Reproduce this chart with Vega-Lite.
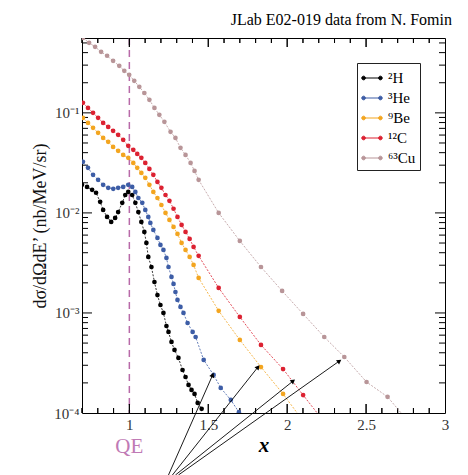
{
  "$schema": "https://vega.github.io/schema/vega-lite/v6.json",
  "width": 363,
  "height": 375,
  "autosize": "none",
  "padding": {"left": 82, "top": 38, "right": 23, "bottom": 62},
  "background": "white",
  "config": {"view": {"stroke": "black", "strokeWidth": 1}, "font": "Liberation Serif"},
  "title": {"text": "JLab E02-019 data from N. Fomin", "anchor": "end", "frame": "group", "font": "Liberation Serif", "fontSize": 16, "fontWeight": "normal", "color": "black", "baseline": "alphabetic", "offset": -5, "dx": 7},
  "datasets": {
    "series": [
      {"n": "²H", "x": 0.700, "y": 0.0191}, {"n": "²H", "x": 0.732, "y": 0.0182}, {"n": "²H", "x": 0.764, "y": 0.0170}, {"n": "²H", "x": 0.789, "y": 0.0159},
      {"n": "²H", "x": 0.815, "y": 0.0129}, {"n": "²H", "x": 0.834, "y": 0.0107}, {"n": "²H", "x": 0.859, "y": 0.00912}, {"n": "²H", "x": 0.885, "y": 0.00813},
      {"n": "²H", "x": 0.910, "y": 0.00891}, {"n": "²H", "x": 0.929, "y": 0.0102}, {"n": "²H", "x": 0.955, "y": 0.0126}, {"n": "²H", "x": 0.974, "y": 0.0151},
      {"n": "²H", "x": 0.993, "y": 0.0162}, {"n": "²H", "x": 1.018, "y": 0.0151}, {"n": "²H", "x": 1.038, "y": 0.0126}, {"n": "²H", "x": 1.057, "y": 0.0102},
      {"n": "²H", "x": 1.076, "y": 0.00813}, {"n": "²H", "x": 1.095, "y": 0.00646}, {"n": "²H", "x": 1.108, "y": 0.00501}, {"n": "²H", "x": 1.120, "y": 0.00363},
      {"n": "²H", "x": 1.140, "y": 0.00288}, {"n": "²H", "x": 1.159, "y": 0.00204}, {"n": "²H", "x": 1.178, "y": 0.00151}, {"n": "²H", "x": 1.197, "y": 0.00120},
      {"n": "²H", "x": 1.216, "y": 0.00100}, {"n": "²H", "x": 1.235, "y": 0.000741}, {"n": "²H", "x": 1.248, "y": 0.000646}, {"n": "²H", "x": 1.267, "y": 0.000513},
      {"n": "²H", "x": 1.286, "y": 0.000427}, {"n": "²H", "x": 1.311, "y": 0.000355}, {"n": "²H", "x": 1.337, "y": 0.000269}, {"n": "²H", "x": 1.356, "y": 0.000229},
      {"n": "²H", "x": 1.375, "y": 0.000191}, {"n": "²H", "x": 1.394, "y": 0.000170}, {"n": "²H", "x": 1.413, "y": 0.000155}, {"n": "²H", "x": 1.433, "y": 0.000126},
      {"n": "²H", "x": 1.458, "y": 0.000110},
      {"n": "³He", "x": 0.706, "y": 0.0324}, {"n": "³He", "x": 0.738, "y": 0.0282}, {"n": "³He", "x": 0.770, "y": 0.0240}, {"n": "³He", "x": 0.802, "y": 0.0214},
      {"n": "³He", "x": 0.834, "y": 0.0191}, {"n": "³He", "x": 0.866, "y": 0.0178}, {"n": "³He", "x": 0.898, "y": 0.0174}, {"n": "³He", "x": 0.929, "y": 0.0178},
      {"n": "³He", "x": 0.961, "y": 0.0182}, {"n": "³He", "x": 0.993, "y": 0.0191}, {"n": "³He", "x": 1.018, "y": 0.0182}, {"n": "³He", "x": 1.038, "y": 0.0162},
      {"n": "³He", "x": 1.057, "y": 0.0141}, {"n": "³He", "x": 1.082, "y": 0.0126}, {"n": "³He", "x": 1.101, "y": 0.0107}, {"n": "³He", "x": 1.120, "y": 0.00912},
      {"n": "³He", "x": 1.133, "y": 0.00794}, {"n": "³He", "x": 1.152, "y": 0.00676}, {"n": "³He", "x": 1.178, "y": 0.00562}, {"n": "³He", "x": 1.197, "y": 0.00479},
      {"n": "³He", "x": 1.216, "y": 0.00427}, {"n": "³He", "x": 1.235, "y": 0.00355}, {"n": "³He", "x": 1.248, "y": 0.00288}, {"n": "³He", "x": 1.267, "y": 0.00229},
      {"n": "³He", "x": 1.280, "y": 0.00195}, {"n": "³He", "x": 1.292, "y": 0.00162}, {"n": "³He", "x": 1.305, "y": 0.00135}, {"n": "³He", "x": 1.324, "y": 0.00115},
      {"n": "³He", "x": 1.343, "y": 0.00100}, {"n": "³He", "x": 1.369, "y": 0.000794}, {"n": "³He", "x": 1.401, "y": 0.000646}, {"n": "³He", "x": 1.420, "y": 0.000575},
      {"n": "³He", "x": 1.471, "y": 0.000339}, {"n": "³He", "x": 1.534, "y": 0.000240}, {"n": "³He", "x": 1.579, "y": 0.000178}, {"n": "³He", "x": 1.643, "y": 0.000135},
      {"n": "³He", "x": 1.694, "y": 0.000102},
      {"n": "⁹Be", "x": 0.706, "y": 0.0891}, {"n": "⁹Be", "x": 0.738, "y": 0.0794}, {"n": "⁹Be", "x": 0.770, "y": 0.0708}, {"n": "⁹Be", "x": 0.802, "y": 0.0631},
      {"n": "⁹Be", "x": 0.834, "y": 0.0562}, {"n": "⁹Be", "x": 0.866, "y": 0.0513}, {"n": "⁹Be", "x": 0.897, "y": 0.0457}, {"n": "⁹Be", "x": 0.929, "y": 0.0417},
      {"n": "⁹Be", "x": 0.961, "y": 0.0380}, {"n": "⁹Be", "x": 0.993, "y": 0.0355}, {"n": "⁹Be", "x": 1.025, "y": 0.0316}, {"n": "⁹Be", "x": 1.050, "y": 0.0282},
      {"n": "⁹Be", "x": 1.076, "y": 0.0251}, {"n": "⁹Be", "x": 1.101, "y": 0.0224}, {"n": "⁹Be", "x": 1.127, "y": 0.0191}, {"n": "⁹Be", "x": 1.152, "y": 0.0162},
      {"n": "⁹Be", "x": 1.178, "y": 0.0141}, {"n": "⁹Be", "x": 1.203, "y": 0.0120}, {"n": "⁹Be", "x": 1.229, "y": 0.0100}, {"n": "⁹Be", "x": 1.254, "y": 0.00851},
      {"n": "⁹Be", "x": 1.280, "y": 0.00724}, {"n": "⁹Be", "x": 1.305, "y": 0.00617}, {"n": "⁹Be", "x": 1.331, "y": 0.00501}, {"n": "⁹Be", "x": 1.356, "y": 0.00427},
      {"n": "⁹Be", "x": 1.382, "y": 0.00363}, {"n": "⁹Be", "x": 1.407, "y": 0.00302}, {"n": "⁹Be", "x": 1.439, "y": 0.00224}, {"n": "⁹Be", "x": 1.566, "y": 0.00105},
      {"n": "⁹Be", "x": 1.700, "y": 0.000537}, {"n": "⁹Be", "x": 1.834, "y": 0.000288}, {"n": "⁹Be", "x": 1.974, "y": 0.000155}, {"n": "⁹Be", "x": 2.101, "y": 0.0000832},
      {"n": "¹²C", "x": 0.706, "y": 0.126}, {"n": "¹²C", "x": 0.738, "y": 0.112}, {"n": "¹²C", "x": 0.770, "y": 0.100}, {"n": "¹²C", "x": 0.802, "y": 0.0891},
      {"n": "¹²C", "x": 0.834, "y": 0.0794}, {"n": "¹²C", "x": 0.866, "y": 0.0724}, {"n": "¹²C", "x": 0.897, "y": 0.0661}, {"n": "¹²C", "x": 0.929, "y": 0.0603},
      {"n": "¹²C", "x": 0.961, "y": 0.0537}, {"n": "¹²C", "x": 0.993, "y": 0.0468}, {"n": "¹²C", "x": 1.025, "y": 0.0427}, {"n": "¹²C", "x": 1.050, "y": 0.0389},
      {"n": "¹²C", "x": 1.076, "y": 0.0355}, {"n": "¹²C", "x": 1.101, "y": 0.0316}, {"n": "¹²C", "x": 1.127, "y": 0.0275}, {"n": "¹²C", "x": 1.152, "y": 0.0240},
      {"n": "¹²C", "x": 1.178, "y": 0.0204}, {"n": "¹²C", "x": 1.203, "y": 0.0178}, {"n": "¹²C", "x": 1.229, "y": 0.0151}, {"n": "¹²C", "x": 1.254, "y": 0.0132},
      {"n": "¹²C", "x": 1.280, "y": 0.0110}, {"n": "¹²C", "x": 1.305, "y": 0.00912}, {"n": "¹²C", "x": 1.331, "y": 0.00759}, {"n": "¹²C", "x": 1.356, "y": 0.00646},
      {"n": "¹²C", "x": 1.382, "y": 0.00550}, {"n": "¹²C", "x": 1.407, "y": 0.00457}, {"n": "¹²C", "x": 1.439, "y": 0.00372}, {"n": "¹²C", "x": 1.566, "y": 0.00178},
      {"n": "¹²C", "x": 1.700, "y": 0.000912}, {"n": "¹²C", "x": 1.834, "y": 0.000479}, {"n": "¹²C", "x": 1.974, "y": 0.000275}, {"n": "¹²C", "x": 2.101, "y": 0.000151},
      {"n": "¹²C", "x": 2.235, "y": 0.0000813},
      {"n": "⁶³Cu", "x": 0.706, "y": 0.562}, {"n": "⁶³Cu", "x": 0.745, "y": 0.501}, {"n": "⁶³Cu", "x": 0.783, "y": 0.457}, {"n": "⁶³Cu", "x": 0.821, "y": 0.407},
      {"n": "⁶³Cu", "x": 0.859, "y": 0.372}, {"n": "⁶³Cu", "x": 0.897, "y": 0.331}, {"n": "⁶³Cu", "x": 0.936, "y": 0.295}, {"n": "⁶³Cu", "x": 0.968, "y": 0.263},
      {"n": "⁶³Cu", "x": 0.999, "y": 0.240}, {"n": "⁶³Cu", "x": 1.031, "y": 0.209}, {"n": "⁶³Cu", "x": 1.063, "y": 0.182}, {"n": "⁶³Cu", "x": 1.095, "y": 0.158},
      {"n": "⁶³Cu", "x": 1.127, "y": 0.135}, {"n": "⁶³Cu", "x": 1.159, "y": 0.112}, {"n": "⁶³Cu", "x": 1.190, "y": 0.0955}, {"n": "⁶³Cu", "x": 1.222, "y": 0.0813},
      {"n": "⁶³Cu", "x": 1.261, "y": 0.0646}, {"n": "⁶³Cu", "x": 1.292, "y": 0.0562}, {"n": "⁶³Cu", "x": 1.324, "y": 0.0447}, {"n": "⁶³Cu", "x": 1.356, "y": 0.0380},
      {"n": "⁶³Cu", "x": 1.388, "y": 0.0316}, {"n": "⁶³Cu", "x": 1.413, "y": 0.0263}, {"n": "⁶³Cu", "x": 1.439, "y": 0.0214}, {"n": "⁶³Cu", "x": 1.566, "y": 0.0100},
      {"n": "⁶³Cu", "x": 1.700, "y": 0.00525}, {"n": "⁶³Cu", "x": 1.834, "y": 0.00288}, {"n": "⁶³Cu", "x": 1.968, "y": 0.00166}, {"n": "⁶³Cu", "x": 2.101, "y": 0.000977},
      {"n": "⁶³Cu", "x": 2.235, "y": 0.000575}, {"n": "⁶³Cu", "x": 2.362, "y": 0.000363}, {"n": "⁶³Cu", "x": 2.503, "y": 0.000204}, {"n": "⁶³Cu", "x": 2.636, "y": 0.000145},
      {"n": "⁶³Cu", "x": 2.770, "y": 0.0000813}
    ],
    "arrows": [
      {"x0": 1.248, "y0": 0.000024, "x1": 1.528, "y1": 0.000240},
      {"x0": 1.273, "y0": 0.000024, "x1": 1.815, "y1": 0.000288},
      {"x0": 1.292, "y0": 0.000024, "x1": 2.038, "y1": 0.000209},
      {"x0": 1.311, "y0": 0.000024, "x1": 2.331, "y1": 0.000331}
    ],
    "xticks": [
      {"v": 0.7, "major": false}, {"v": 0.8, "major": false}, {"v": 0.9, "major": false}, {"v": 1, "major": true}, {"v": 1.1, "major": false}, {"v": 1.2, "major": false},
      {"v": 1.3, "major": false}, {"v": 1.4, "major": false}, {"v": 1.5, "major": true}, {"v": 1.6, "major": false}, {"v": 1.7, "major": false}, {"v": 1.8, "major": false},
      {"v": 1.9, "major": false}, {"v": 2, "major": true}, {"v": 2.1, "major": false}, {"v": 2.2, "major": false}, {"v": 2.3, "major": false}, {"v": 2.4, "major": false},
      {"v": 2.5, "major": true}, {"v": 2.6, "major": false}, {"v": 2.7, "major": false}, {"v": 2.8, "major": false}, {"v": 2.9, "major": false}
    ],
    "yticks": [
      {"v": 0.0002, "major": false}, {"v": 0.0003, "major": false}, {"v": 0.0004, "major": false}, {"v": 0.0005, "major": false}, {"v": 0.0006, "major": false},
      {"v": 0.0007, "major": false}, {"v": 0.0008, "major": false}, {"v": 0.0009, "major": false}, {"v": 0.001, "major": true},
      {"v": 0.002, "major": false}, {"v": 0.003, "major": false}, {"v": 0.004, "major": false}, {"v": 0.005, "major": false}, {"v": 0.006, "major": false},
      {"v": 0.007, "major": false}, {"v": 0.008, "major": false}, {"v": 0.009, "major": false}, {"v": 0.01, "major": true},
      {"v": 0.02, "major": false}, {"v": 0.03, "major": false}, {"v": 0.04, "major": false}, {"v": 0.05, "major": false}, {"v": 0.06, "major": false},
      {"v": 0.07, "major": false}, {"v": 0.08, "major": false}, {"v": 0.09, "major": false}, {"v": 0.1, "major": true},
      {"v": 0.2, "major": false}, {"v": 0.3, "major": false}, {"v": 0.4, "major": false}, {"v": 0.5, "major": false}
    ]
  },
  "layer": [
    {
      "data": {"values": [{"qe": 1}]},
      "mark": {"type": "rule", "color": "#b86aa8", "strokeDash": [7, 5], "strokeWidth": 1.5},
      "encoding": {"x": {"field": "qe", "type": "quantitative", "scale": {"domain": [0.7, 3], "nice": false, "zero": false}}}
    },
    {
      "data": {"name": "yticks"},
      "transform": [{"filter": "datum.major"}],
      "mark": {"type": "tick", "orient": "horizontal", "size": 10, "thickness": 1, "xOffset": 5, "color": "black", "opacity": 1},
      "encoding": {
        "y": {"field": "v", "type": "quantitative", "scale": {"type": "log", "domain": [0.0001, 0.56], "nice": false}},
        "x": {"datum": 0.7, "type": "quantitative", "scale": {"domain": [0.7, 3], "nice": false, "zero": false}}
      }
    },
    {
      "data": {"name": "yticks"},
      "transform": [{"filter": "!datum.major"}],
      "mark": {"type": "tick", "orient": "horizontal", "size": 6, "thickness": 1, "xOffset": 3, "color": "black", "opacity": 1},
      "encoding": {
        "y": {"field": "v", "type": "quantitative", "scale": {"type": "log", "domain": [0.0001, 0.56], "nice": false}},
        "x": {"datum": 0.7, "type": "quantitative", "scale": {"domain": [0.7, 3], "nice": false, "zero": false}}
      }
    },
    {
      "data": {"name": "yticks"},
      "transform": [{"filter": "datum.major"}],
      "mark": {"type": "tick", "orient": "horizontal", "size": 10, "thickness": 1, "xOffset": -5, "color": "black", "opacity": 1},
      "encoding": {
        "y": {"field": "v", "type": "quantitative", "scale": {"type": "log", "domain": [0.0001, 0.56], "nice": false}},
        "x": {"datum": 3, "type": "quantitative", "scale": {"domain": [0.7, 3], "nice": false, "zero": false}}
      }
    },
    {
      "data": {"name": "yticks"},
      "transform": [{"filter": "!datum.major"}],
      "mark": {"type": "tick", "orient": "horizontal", "size": 6, "thickness": 1, "xOffset": -3, "color": "black", "opacity": 1},
      "encoding": {
        "y": {"field": "v", "type": "quantitative", "scale": {"type": "log", "domain": [0.0001, 0.56], "nice": false}},
        "x": {"datum": 3, "type": "quantitative", "scale": {"domain": [0.7, 3], "nice": false, "zero": false}}
      }
    },
    {
      "data": {"name": "xticks"},
      "transform": [{"filter": "datum.major"}, {"calculate": "0.0001", "as": "edge"}],
      "mark": {"type": "tick", "orient": "vertical", "size": 9, "thickness": 1, "yOffset": -4.5, "color": "black", "opacity": 1},
      "encoding": {
        "x": {"field": "v", "type": "quantitative", "scale": {"domain": [0.7, 3], "nice": false, "zero": false}},
        "y": {"field": "edge", "type": "quantitative", "scale": {"type": "log", "domain": [0.0001, 0.56], "nice": false}}
      }
    },
    {
      "data": {"name": "xticks"},
      "transform": [{"filter": "!datum.major"}, {"calculate": "0.0001", "as": "edge"}],
      "mark": {"type": "tick", "orient": "vertical", "size": 5, "thickness": 1, "yOffset": -2.5, "color": "black", "opacity": 1},
      "encoding": {
        "x": {"field": "v", "type": "quantitative", "scale": {"domain": [0.7, 3], "nice": false, "zero": false}},
        "y": {"field": "edge", "type": "quantitative", "scale": {"type": "log", "domain": [0.0001, 0.56], "nice": false}}
      }
    },
    {
      "data": {"name": "xticks"},
      "transform": [{"filter": "datum.major"}, {"calculate": "0.56", "as": "edge"}],
      "mark": {"type": "tick", "orient": "vertical", "size": 9, "thickness": 1, "yOffset": 4.5, "color": "black", "opacity": 1},
      "encoding": {
        "x": {"field": "v", "type": "quantitative", "scale": {"domain": [0.7, 3], "nice": false, "zero": false}},
        "y": {"field": "edge", "type": "quantitative", "scale": {"type": "log", "domain": [0.0001, 0.56], "nice": false}}
      }
    },
    {
      "data": {"name": "xticks"},
      "transform": [{"filter": "!datum.major"}, {"calculate": "0.56", "as": "edge"}],
      "mark": {"type": "tick", "orient": "vertical", "size": 5, "thickness": 1, "yOffset": 2.5, "color": "black", "opacity": 1},
      "encoding": {
        "x": {"field": "v", "type": "quantitative", "scale": {"domain": [0.7, 3], "nice": false, "zero": false}},
        "y": {"field": "edge", "type": "quantitative", "scale": {"type": "log", "domain": [0.0001, 0.56], "nice": false}}
      }
    },
    {
      "data": {"name": "xticks"},
      "transform": [{"filter": "datum.major"}, {"calculate": "0.0001", "as": "edge"}],
      "mark": {"type": "point", "shape": "M0,0L0,-1", "size": 324, "filled": false, "strokeWidth": 1, "color": "black", "opacity": 1},
      "encoding": {
        "x": {"field": "v", "type": "quantitative", "scale": {"domain": [0.7, 3], "nice": false, "zero": false}},
        "y": {"field": "edge", "type": "quantitative", "scale": {"type": "log", "domain": [0.0001, 0.56], "nice": false}}
      }
    },
    {
      "data": {"name": "xticks"},
      "transform": [{"filter": "!datum.major"}, {"calculate": "0.0001", "as": "edge"}],
      "mark": {"type": "point", "shape": "M0,0L0,-1", "size": 100, "filled": false, "strokeWidth": 1, "color": "black", "opacity": 1},
      "encoding": {
        "x": {"field": "v", "type": "quantitative", "scale": {"domain": [0.7, 3], "nice": false, "zero": false}},
        "y": {"field": "edge", "type": "quantitative", "scale": {"type": "log", "domain": [0.0001, 0.56], "nice": false}}
      }
    },
    {
      "data": {"name": "xticks"},
      "transform": [{"filter": "datum.major"}, {"calculate": "0.56", "as": "edge"}],
      "mark": {"type": "point", "shape": "M0,0L0,1", "size": 324, "filled": false, "strokeWidth": 1, "color": "black", "opacity": 1},
      "encoding": {
        "x": {"field": "v", "type": "quantitative", "scale": {"domain": [0.7, 3], "nice": false, "zero": false}},
        "y": {"field": "edge", "type": "quantitative", "scale": {"type": "log", "domain": [0.0001, 0.56], "nice": false}}
      }
    },
    {
      "data": {"name": "xticks"},
      "transform": [{"filter": "!datum.major"}, {"calculate": "0.56", "as": "edge"}],
      "mark": {"type": "point", "shape": "M0,0L0,1", "size": 100, "filled": false, "strokeWidth": 1, "color": "black", "opacity": 1},
      "encoding": {
        "x": {"field": "v", "type": "quantitative", "scale": {"domain": [0.7, 3], "nice": false, "zero": false}},
        "y": {"field": "edge", "type": "quantitative", "scale": {"type": "log", "domain": [0.0001, 0.56], "nice": false}}
      }
    },
    {
      "data": {"name": "series"},
      "mark": {"type": "line", "clip": true, "strokeWidth": 0.8, "strokeDash": [2, 1.5]},
      "encoding": {
        "x": {"field": "x", "type": "quantitative", "scale": {"domain": [0.7, 3], "nice": false, "zero": false},
          "axis": {"orient": "bottom", "title": "x", "titleFont": "Liberation Serif", "titleFontStyle": "italic", "titleFontWeight": "bold", "titleFontSize": 21, "titleColor": "black", "titlePadding": 2,
            "values": [1, 1.5, 2, 2.5, 3],
            "labelExpr": "'' + round(datum.value*10)/10",
            "ticks": false, "tickSize": 0, "domain": false,
            "labelFont": "Liberation Serif", "labelFontSize": 15, "labelColor": "#333", "labelPadding": 4, "labelFlush": false, "labelOverlap": false, "grid": false}},
        "y": {"field": "y", "type": "quantitative", "scale": {"type": "log", "domain": [0.0001, 0.56], "nice": false},
          "axis": {"orient": "left", "title": "dσ/dΩdE’ (nb/MeV/sr)", "titleFont": "Liberation Serif", "titleFontSize": 18, "titleFontWeight": "normal", "titleColor": "#111", "titlePadding": 4,
            "values": [0.0001, 0.001, 0.01, 0.1],
            "labelExpr": "round(log(datum.value)/LN10) == -4 ? '10⁻⁴' : round(log(datum.value)/LN10) == -3 ? '10⁻³' : round(log(datum.value)/LN10) == -2 ? '10⁻²' : '10⁻¹'",
            "ticks": false, "tickSize": 0, "domain": false,
            "labelFont": "Liberation Serif", "labelFontSize": 15, "labelColor": "#333", "labelPadding": 3, "labelFlush": false, "labelOverlap": false, "grid": false}},
        "color": {"field": "n", "type": "nominal",
          "scale": {"domain": ["²H", "³He", "⁹Be", "¹²C", "⁶³Cu"], "range": ["#000000", "#3d5da6", "#f3a51f", "#dc2131", "#b89598"]},
          "legend": {"title": null, "orient": "none", "legendX": 275, "legendY": 25, "strokeColor": "#222", "padding": 4,
            "symbolType": "M-0.82,0L0.82,0M-1,0A0.18,0.18,0,1,1,-0.64,0A0.18,0.18,0,1,1,-1,0ZM0.64,0A0.18,0.18,0,1,1,1,0A0.18,0.18,0,1,1,0.64,0Z",
            "symbolSize": 420, "symbolStrokeWidth": 1, "labelFont": "Liberation Serif", "labelFontSize": 15, "labelColor": "black", "labelOffset": 5, "rowPadding": 1,
            "encode": {"symbols": {"update": {"fill": {"scale": "color", "field": "value"}, "stroke": {"scale": "color", "field": "value"}, "opacity": {"value": 1}}}}}},
        "order": {"field": "x", "type": "quantitative"}
      }
    },
    {
      "data": {"name": "series"},
      "mark": {"type": "point", "filled": true, "size": 22, "opacity": 1, "clip": true},
      "encoding": {
        "x": {"field": "x", "type": "quantitative", "scale": {"domain": [0.7, 3], "nice": false, "zero": false}},
        "y": {"field": "y", "type": "quantitative", "scale": {"type": "log", "domain": [0.0001, 0.56], "nice": false}},
        "color": {"field": "n", "type": "nominal",
          "scale": {"domain": ["²H", "³He", "⁹Be", "¹²C", "⁶³Cu"], "range": ["#000000", "#3d5da6", "#f3a51f", "#dc2131", "#b89598"]},
          "legend": {"title": null, "orient": "none", "legendX": 275, "legendY": 25, "strokeColor": "#222", "padding": 4,
            "symbolType": "M-0.82,0L0.82,0M-1,0A0.18,0.18,0,1,1,-0.64,0A0.18,0.18,0,1,1,-1,0ZM0.64,0A0.18,0.18,0,1,1,1,0A0.18,0.18,0,1,1,0.64,0Z",
            "symbolSize": 420, "symbolStrokeWidth": 1, "labelFont": "Liberation Serif", "labelFontSize": 15, "labelColor": "black", "labelOffset": 5, "rowPadding": 1,
            "encode": {"symbols": {"update": {"fill": {"scale": "color", "field": "value"}, "stroke": {"scale": "color", "field": "value"}, "opacity": {"value": 1}}}}}}
      }
    },
    {
      "data": {"name": "arrows"},
      "mark": {"type": "rule", "color": "black", "strokeWidth": 0.9},
      "encoding": {
        "x": {"field": "x0", "type": "quantitative", "scale": {"domain": [0.7, 3], "nice": false, "zero": false}},
        "y": {"field": "y0", "type": "quantitative", "scale": {"type": "log", "domain": [0.0001, 0.56], "nice": false}},
        "x2": {"field": "x1"},
        "y2": {"field": "y1"}
      }
    },
    {
      "data": {"name": "arrows"},
      "transform": [{"calculate": "atan2((datum.x1 - datum.x0) * 157.8, (log(datum.y1) - log(datum.y0)) / LN10 * 100) * 180 / PI", "as": "ang"}],
      "mark": {"type": "point", "shape": "triangle-up", "filled": true, "color": "black", "size": 28, "opacity": 1},
      "encoding": {
        "x": {"field": "x1", "type": "quantitative", "scale": {"domain": [0.7, 3], "nice": false, "zero": false}},
        "y": {"field": "y1", "type": "quantitative", "scale": {"type": "log", "domain": [0.0001, 0.56], "nice": false}},
        "angle": {"field": "ang", "type": "quantitative", "scale": null}
      }
    },
    {
      "data": {"values": [{"qe": 1, "yb": 0.0001, "t": "QE"}]},
      "mark": {"type": "text", "color": "#c07ab5", "fontSize": 21, "font": "Liberation Serif", "dy": 34, "baseline": "middle", "align": "center"},
      "encoding": {
        "x": {"field": "qe", "type": "quantitative", "scale": {"domain": [0.7, 3], "nice": false, "zero": false}},
        "y": {"field": "yb", "type": "quantitative", "scale": {"type": "log", "domain": [0.0001, 0.56], "nice": false}},
        "text": {"field": "t"}
      }
    }
  ]
}
